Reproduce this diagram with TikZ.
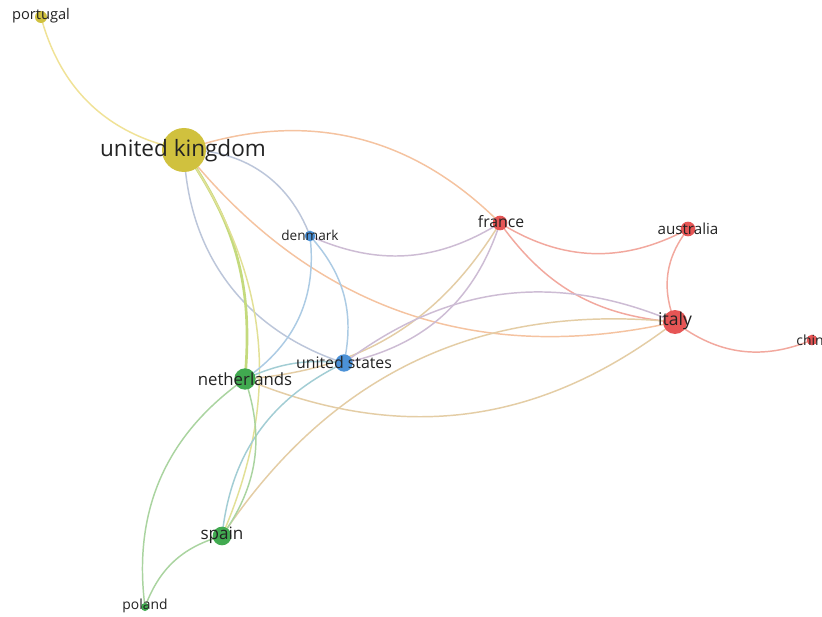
\documentclass[tikz,border=0pt]{standalone}
\usepackage{fontspec}
\setmainfont{Open Sans}
\pgfdeclarelayer{bg}
\pgfsetlayers{bg,main}
\definecolor{nyellow}{RGB}{208,193,62}
\definecolor{nred}{RGB}{230,85,85}
\definecolor{nblue}{RGB}{75,145,215}
\definecolor{ngreen}{RGB}{65,170,80}
\definecolor{eyel}{RGB}{240,226,150}
\definecolor{eorange}{RGB}{245,195,160}
\definecolor{ered}{RGB}{242,168,158}
\definecolor{eblue}{RGB}{172,203,228}
\definecolor{egray}{RGB}{188,198,218}
\definecolor{epurple}{RGB}{205,188,212}
\definecolor{egreen}{RGB}{170,212,160}
\definecolor{eyg}{RGB}{196,218,125}
\definecolor{eyel2}{RGB}{226,224,150}
\definecolor{etan}{RGB}{228,205,165}
\definecolor{ebg}{RGB}{162,205,212}
\definecolor{txt}{RGB}{35,35,35}
\begin{document}
\begin{tikzpicture}[x=0.75pt,y=0.75pt,
  dot/.style={circle,inner sep=0pt,minimum size=#1},
  lbl/.style={text=txt,inner sep=0pt,font=\fontsize{#1}{#1}\selectfont},
  lnk/.style={line width=1.1pt,draw=#1}]
\clip (0,0) rectangle (822,-617);
\begin{pgfonlayer}{bg}
\fill[white] (0,0) rectangle (822,-617);
\end{pgfonlayer}
% nodes
\node[dot=9pt,fill=nyellow] (pt) at (41,-17) {};
\node[dot=33pt,fill=nyellow] (uk) at (184,-150) {};
\node[dot=8pt,fill=nblue] (dk) at (310,-236) {};
\node[dot=11pt,fill=nred] (fr) at (500,-223) {};
\node[dot=11pt,fill=nred] (au) at (688,-229) {};
\node[dot=18pt,fill=nred] (it) at (675,-322) {};
\node[dot=8pt,fill=nred] (cn) at (812,-340) {};
\node[dot=13pt,fill=nblue] (us) at (344,-363) {};
\node[dot=16pt,fill=ngreen] (nl) at (245,-379) {};
\node[dot=14pt,fill=ngreen] (es) at (222,-536) {};
\node[dot=6pt,fill=ngreen] (pl) at (145,-607) {};
% links
\begin{pgfonlayer}{bg}
\draw[lnk=eyel] (pt.center) to[bend right=32] (uk.center);
\draw[lnk=eorange] (uk.center) to[bend left=32] (fr.center);
\draw[lnk=eorange] (uk.center) to[bend right=32] (it.center);
\draw[lnk=egray] (uk.center) to[bend left=35] (dk.center);
\draw[lnk=egray] (uk.center) to[bend right=35] (us.center);
\draw[lnk=eyg,line width=2pt] (uk.center) to[bend left=20] (nl.center);
\draw[lnk=eyel2] (uk.center) to[bend left=29] (es.center);
\draw[lnk=epurple] (dk.center) to[bend right=28] (fr.center);
\draw[lnk=eblue] (dk.center) to[bend left=31] (nl.center);
\draw[lnk=eblue] (dk.center) to[bend left=27] (us.center);
\draw[lnk=epurple] (fr.center) to[bend left=30] (us.center);
\draw[lnk=etan] (fr.center) to[bend left=27] (nl.center);
\draw[lnk=ered] (fr.center) to[bend right=25] (it.center);
\draw[lnk=ered] (fr.center) to[bend right=30] (au.center);
\draw[lnk=ered] (au.center) to[bend right=30] (it.center);
\draw[lnk=ered] (it.center) to[bend right=30] (cn.center);
\draw[lnk=epurple] (us.center) to[bend left=30] (it.center);
\draw[lnk=etan] (nl.center) to[bend right=30] (it.center);
\draw[lnk=etan] (es.center) to[bend left=31] (it.center);
\draw[lnk=ebg] (es.center) to[bend left=29] (us.center);
\draw[lnk=egreen] (nl.center) to[bend left=27] (es.center);
\draw[lnk=egreen] (nl.center) to[bend right=31] (pl.center);
\draw[lnk=egreen] (es.center) to[bend right=27] (pl.center);
\draw[lnk=ebg] (nl.center) to[bend left=15] (us.center);
\end{pgfonlayer}
% labels
\node[lbl=11] (lpt) at (41,-16) {portugal};
\node[lbl=16.9] (luk) at (183,-151) {united kingdom};
\node[lbl=10.2] (ldk) at (310,-235) {denmark};
\node[lbl=11.8] (lfr) at (501,-222) {france};
\node[lbl=11.4] (lau) at (688,-229) {australia};
\node[lbl=13.2] (lit) at (675,-321) {italy};
\node[lbl=10.5] (lcn) at (814,-340) {china};
\node[lbl=11.9] (lus) at (344,-363) {united states};
\node[lbl=12.6] (lnl) at (245,-379) {netherlands};
\node[lbl=12.8] (les) at (222,-535) {spain};
\node[lbl=10.4] (lpl) at (145,-606) {poland};
\end{tikzpicture}
\end{document}
